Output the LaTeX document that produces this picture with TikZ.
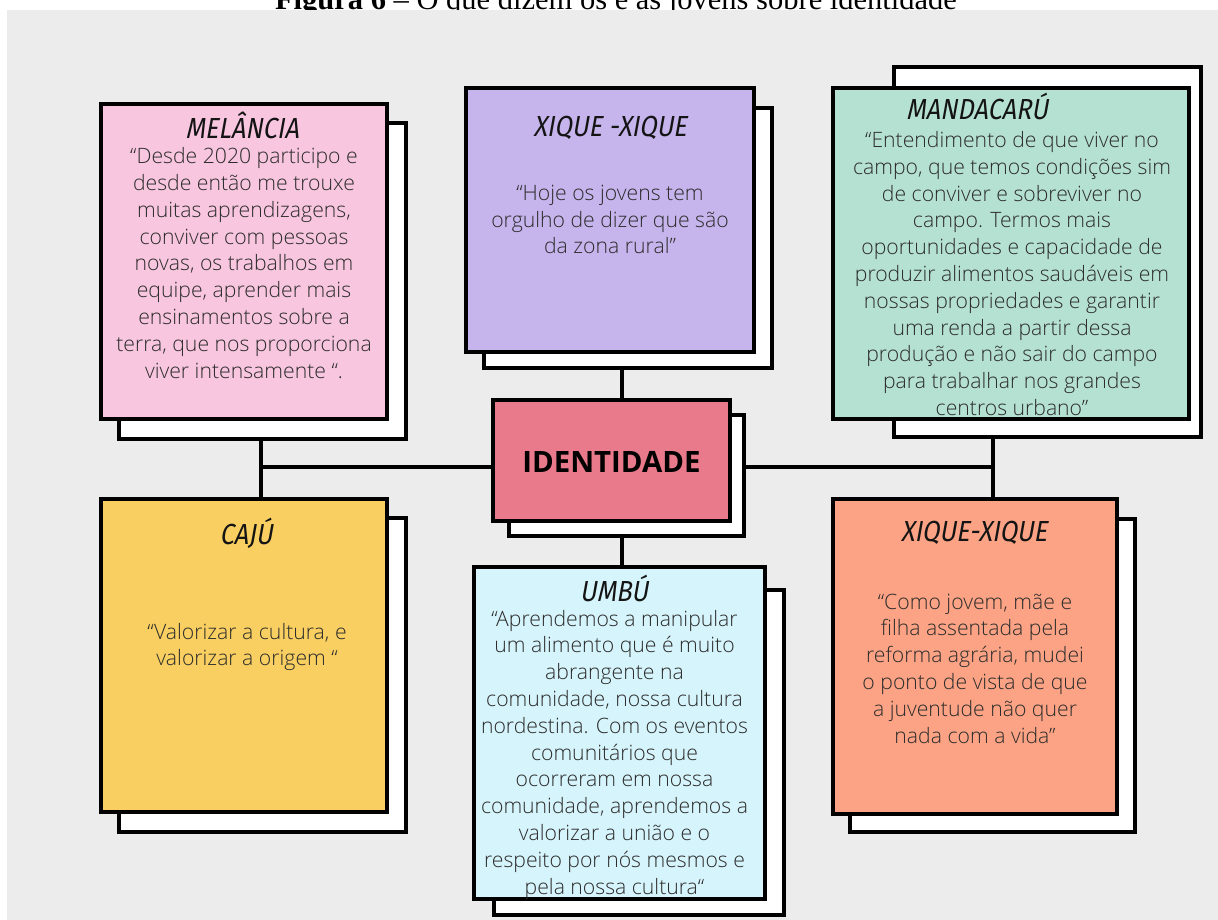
\documentclass[tikz,border=0pt]{standalone}
\usepackage{fontspec}
\IfFontExistsTF{Open Sans Light}{\setmainfont{Open Sans Light}}{\setmainfont{Open Sans}}
\newfontfamily\capfont{Liberation Serif}
\newfontfamily\headfont[FakeStretch=0.87,FakeSlant=0.18]{Fira Sans}
\newfontfamily\identfont{Open Sans}
\definecolor{bgc}{HTML}{ECECEC}
\definecolor{pinkc}{HTML}{F8C6DF}
\definecolor{purplec}{HTML}{C6B4EC}
\definecolor{greenc}{HTML}{B5E1D3}
\definecolor{identc}{HTML}{E97A8B}
\definecolor{yellowc}{HTML}{F8CF60}
\definecolor{bluec}{HTML}{D6F4FB}
\definecolor{orangec}{HTML}{FBA384}
\definecolor{bodyc}{HTML}{2C2C2C}
\definecolor{titlec}{HTML}{141414}
\begin{document}
\begin{tikzpicture}[x=1pt,y=-1pt,
  shadowbox/.style={rectangle, draw=black, line width=4pt, fill=white, inner sep=0pt},
  cardbox/.style={rectangle, draw=black, line width=4pt, inner sep=0pt},
  link/.style={draw=black, line width=4pt},
  head/.style={font=\headfont\fontsize{29}{31}\selectfont, text=titlec, inner sep=0pt},
  body/.style={font=\fontsize{21.2}{26.8}\selectfont, align=center, text=bodyc, inner sep=0pt}]
\clip (0,0) rectangle (1218,920);
\fill[white] (0,0) rectangle (1218,920);
\node[anchor=base, inner sep=0pt, font=\capfont\fontsize{30.5}{36}\selectfont] (title) at (616,9.5) {\textbf{Figura 6} – O que dizem os e as jovens sobre identidade};
\fill[bgc] (7,10) rectangle (1218,920);

% MELANCIA
\node[shadowbox, minimum width=287pt, minimum height=316pt] (mels) at (262.5,281) {};
\node[cardbox, fill=pinkc, minimum width=286pt, minimum height=315pt] (mel) at (244,261.5) {};
\node[head] (melt) at (242,125) {MELÂNCIA};
\node[body] (melb) at (244,263) {“Desde 2020 participo e\\desde então me trouxe\\muitas aprendizagens,\\conviver com pessoas\\novas, os trabalhos em\\equipe, aprender mais\\ensinamentos sobre a\\terra, que nos proporciona\\viver intensamente “.};

% XIQUE -XIQUE (top)
\node[shadowbox, minimum width=288pt, minimum height=260pt] (xqas) at (628,238) {};
\node[cardbox, fill=purplec, minimum width=288pt, minimum height=264pt] (xqa) at (610,220) {};
\node[head] (xqat) at (610,128) {XIQUE -XIQUE};
\node[body] (xqab) at (610,219.5) {“Hoje os jovens tem\\orgulho de dizer que são\\da zona rural”};

% MANDACARU
\node[shadowbox, minimum width=307pt, minimum height=370pt] (mands) at (1047.5,252) {};
\node[cardbox, fill=greenc, minimum width=356pt, minimum height=331pt] (mand) at (1011,253.5) {};
\node[head] (mandt) at (977,106) {MANDACARÚ};
\node[body] (mandb) at (1012,273.5) {“Entendimento de que viver no\\campo, que temos condições sim\\de conviver e sobreviver no\\campo. Termos mais\\oportunidades e capacidade de\\produzir alimentos saudáveis em\\nossas propriedades e garantir\\uma renda a partir dessa\\produção e não sair do campo\\para trabalhar nos grandes\\centros urbano”};

% IDENTIDADE
\node[shadowbox, minimum width=235pt, minimum height=121pt] (idents) at (626.5,475.5) {};
\node[cardbox, fill=identc, minimum width=237pt, minimum height=121pt] (ident) at (611.5,460.5) {};
\node[inner sep=0pt, font=\identfont\bfseries\fontsize{29.4}{32}\selectfont, text=black] (identt) at (611.5,462) {IDENTIDADE};

% CAJU
\node[shadowbox, minimum width=287pt, minimum height=314pt] (cajus) at (262.5,675) {};
\node[cardbox, fill=yellowc, minimum width=286pt, minimum height=313pt] (caju) at (244,655.5) {};
\node[head] (cajut) at (246,533) {CAJÚ};
\node[body] (cajub) at (247,647) {“Valorizar a cultura, e\\valorizar a origem “};

% UMBU
\node[shadowbox, minimum width=290pt, minimum height=325pt] (umbus) at (639,752.5) {};
\node[cardbox, fill=bluec, minimum width=291pt, minimum height=332pt] (umbu) at (619.5,733) {};
\node[head] (umbut) at (614,588) {UMBÚ};
\node[body] (umbub) at (614.5,754.5) {“Aprendemos a manipular\\um alimento que é muito\\abrangente na\\comunidade, nossa cultura\\nordestina. Com os eventos\\comunitários que\\ocorreram em nossa\\comunidade, aprendemos a\\valorizar a união e o\\respeito por nós mesmos e\\pela nossa cultura“};

% XIQUE-XIQUE (bottom right)
\node[shadowbox, minimum width=285pt, minimum height=313pt] (xqbs) at (992.5,675.5) {};
\node[cardbox, fill=orangec, minimum width=284pt, minimum height=315pt] (xqb) at (975,656.5) {};
\node[head] (xqbt) at (974,533) {XIQUE-XIQUE};
\node[body] (xqbb) at (975,668.5) {“Como jovem, mãe e\\filha assentada pela\\reforma agrária, mudei\\o ponto de vista de que\\a juventude não quer\\nada com a vida”};

% connectors
\coordinate (jL) at (261,467);
\coordinate (jR) at (993,467);
\coordinate (jC) at (622,467);
\draw[link] (mels.south -| jL) -- (caju.north -| jL);
\draw[link] (jL) -- (ident.west |- jL);
\draw[link] (mands.south -| jR) -- (xqb.north -| jR);
\draw[link] (idents.east |- jR) -- (jR);
\draw[link] (xqas.south -| jC) -- (ident.north -| jC);
\draw[link] (idents.south -| jC) -- (umbu.north -| jC);
\end{tikzpicture}
\end{document}
